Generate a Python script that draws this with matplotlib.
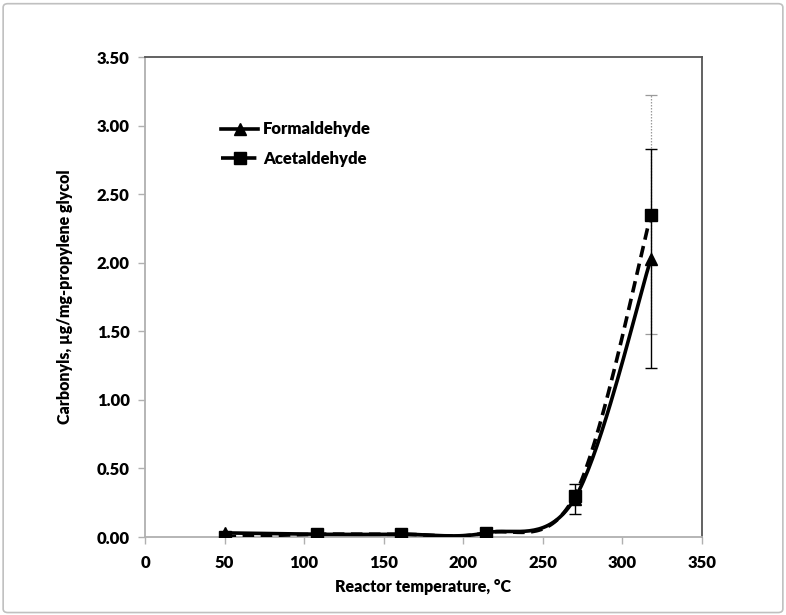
import numpy as np
import matplotlib
matplotlib.use("Agg")
import matplotlib.pyplot as plt
from matplotlib.patches import FancyBboxPatch

plt.rcParams['font.family'] = ['Lato', 'DejaVu Sans']

temps = [50, 108, 161, 214, 270, 318]
formaldehyde = [0.03, 0.02, 0.02, 0.03, 0.28, 2.03]
acetaldehyde = [0.00, 0.02, 0.02, 0.03, 0.30, 2.35]
form_err = [0.0, 0.0, 0.0, 0.0, 0.11, 0.80]
acet_err = [0.0, 0.0, 0.0, 0.0, 0.0, 0.87]
xticks = [0, 50, 100, 150, 200, 250, 300, 350]
yticks = [0.0, 0.5, 1.0, 1.5, 2.0, 2.5, 3.0, 3.5]

fig = plt.figure(figsize=(7.86, 6.15), dpi=100)
ax = fig.add_axes([0.1845, 0.1268, 0.7085, 0.7805])

XL, YL = (0, 350), (0, 3.5)
SX = 555 / 350.0
SY = 480 / 3.5


def excel_smooth(xs, ys, n=40):
    px = np.array(xs, float) * SX
    py = np.array(ys, float) * SY
    out_x, out_y = [], []
    m = len(px)
    for i in range(m - 1):
        p0 = np.array([px[max(i - 1, 0)], py[max(i - 1, 0)]])
        p1 = np.array([px[i], py[i]])
        p2 = np.array([px[i + 1], py[i + 1]])
        p3 = np.array([px[min(i + 2, m - 1)], py[min(i + 2, m - 1)]])
        c1 = p1 + (p2 - p0) / 6.0
        c2 = p2 - (p3 - p1) / 6.0
        t = np.linspace(0, 1, n)[:, None]
        b = ((1 - t) ** 3) * p1 + 3 * ((1 - t) ** 2) * t * c1 + 3 * (1 - t) * t ** 2 * c2 + t ** 3 * p2
        out_x.extend(b[:, 0]); out_y.extend(b[:, 1])
    return np.array(out_x) / SX, np.array(out_y) / SY


# error bars
eb = ax.errorbar(temps, acetaldehyde, yerr=acet_err, fmt='none', ecolor='#9a9a9a',
                 elinewidth=0.9, capsize=4, capthick=0.9, zorder=2)
for c in eb[2]:
    c.set_linestyle((0, (1.2, 1.2)))
ax.errorbar(temps, formaldehyde, yerr=form_err, fmt='none', ecolor='black',
            elinewidth=1.0, capsize=4, capthick=1.0, zorder=3)

fx, fy = excel_smooth(temps, formaldehyde)
axx, ayy = excel_smooth(temps, acetaldehyde)
ax.plot(fx, fy, color='black', lw=2.6, zorder=4)
ax.plot(axx, ayy, color='black', lw=2.6, dashes=(3.2, 1.8), zorder=4)
ax.plot(temps, formaldehyde, linestyle='none', marker='^', ms=9, color='black', zorder=5)
ax.plot(temps, acetaldehyde, linestyle='none', marker='s', ms=8, color='black', zorder=5)

# legend handles
ax.plot([], [], color='black', lw=2.6, marker='^', ms=9, label='Formaldehyde')
ax.plot([], [], color='black', lw=2.6, dashes=(4.5, 0.8), marker='s', ms=8, label='Acetaldehyde')
h, l = ax.get_legend_handles_labels()
leg = ax.legend(h[-2:], l[-2:], loc='upper left', bbox_to_anchor=(0.11, 0.897), frameon=False,
                handlelength=2.2, handletextpad=0.3, labelspacing=0.8,
                prop={'weight': 'heavy', 'size': 12})

ax.set_xlim(*XL)
ax.set_ylim(*YL)
ax.set_xticks(xticks)
ax.set_yticks(yticks)
ax.set_xticklabels([str(v) for v in xticks], fontweight='heavy', fontsize=12)
ax.set_yticklabels([f"{v:.2f}" for v in yticks], fontweight='heavy', fontsize=12)
ax.tick_params(axis='both', direction='out', length=5, width=1, color='#b0b0b0', pad=6)
ax.tick_params(axis='x', pad=8)
ax.spines['left'].set_color('#b0b0b0')
ax.spines['bottom'].set_color('#b0b0b0')
ax.spines['top'].set_color('#555555')
ax.spines['right'].set_color('#555555')
for s in ax.spines.values():
    s.set_linewidth(1.3)

ax.set_xlabel('Reactor temperature, °C', fontweight='heavy', fontsize=11.5, labelpad=6)
ax.set_ylabel('Carbonyls, µg/mg-propylene glycol', fontweight='heavy', fontsize=11.5, labelpad=17)

border = FancyBboxPatch((0.004, 0.004), 0.992, 0.990, boxstyle='round,pad=0,rounding_size=0.006',
                        transform=fig.transFigure, fill=False, edgecolor='#c0c0c0', lw=1.2)
fig.patches.append(border)

fig.savefig('out.png', dpi=100)
